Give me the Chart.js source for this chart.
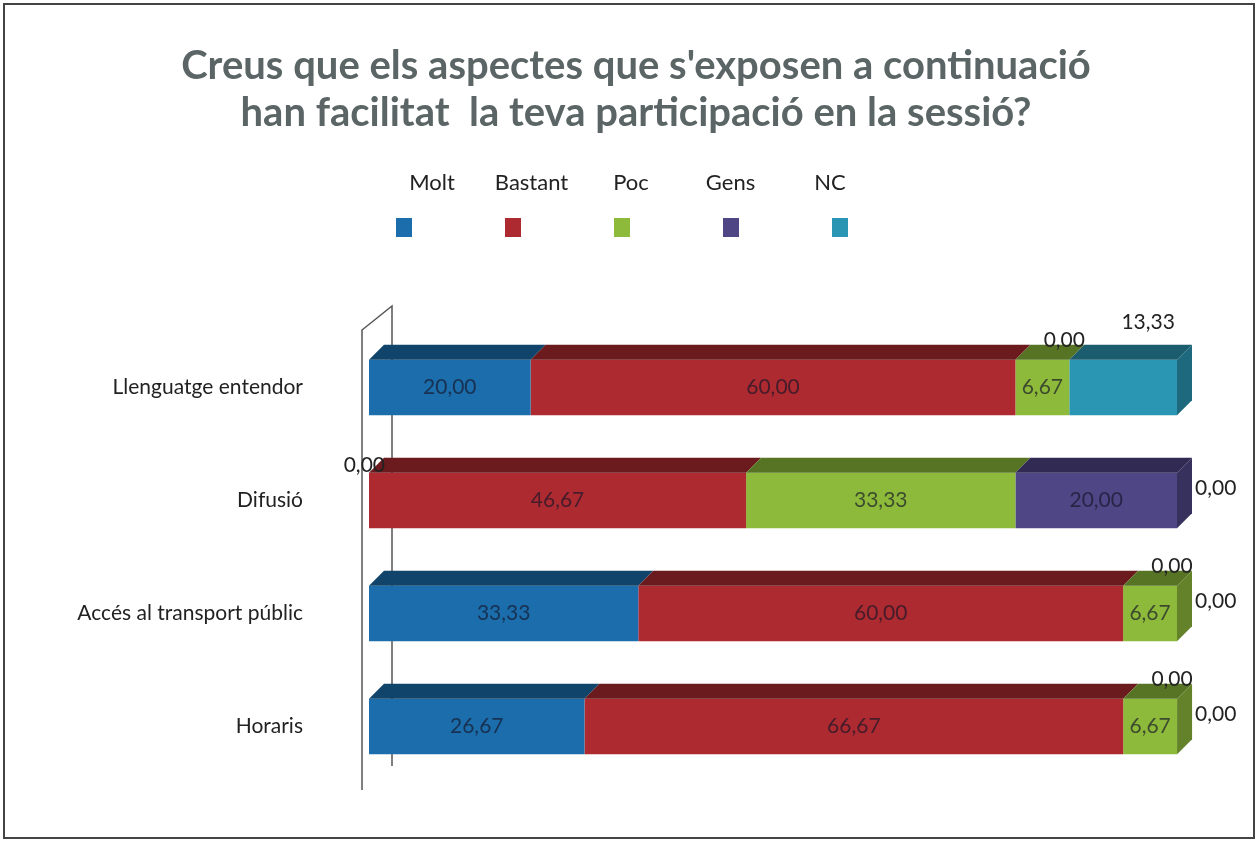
<!DOCTYPE html>
<html>
<head>
<meta charset="utf-8">
<script src="https://cdn.jsdelivr.net/npm/chart.js@4"></script>
<style>
  html, body { margin: 0; padding: 0; background: #fff; }
  canvas { display: block; }
</style>
</head>
<body>
<canvas id="chart" width="1258" height="843"></canvas>
<script>
const categories = ["Llenguatge entendor", "Difusió", "Accés al transport públic", "Horaris"];
const seriesNames = ["Molt", "Bastant", "Poc", "Gens", "NC"];
const molt = [20.0, 0.0, 33.33, 26.67];
const bastant = [60.0, 46.67, 60.0, 66.67];
const poc = [6.67, 33.33, 6.67, 6.67];
const gens = [0.0, 20.0, 0.0, 0.0];
const nc = [13.33, 0.0, 0.0, 0.0];
const titleLines = [
  "Creus que els aspectes que s'exposen a continuació",
  "han facilitat  la teva participació en la sessió?"
];

const colors = ["#1c6dab", "#ad2a30", "#8dba3a", "#4f4686", "#2b96b3"];
const FONT = "Lato, 'Open Sans', sans-serif";
const DEPTH = 15;

function shade(hex, f) {
  const n = parseInt(hex.slice(1), 16);
  const r = Math.round(((n >> 16) & 255) * f);
  const g = Math.round(((n >> 8) & 255) * f);
  const b = Math.round((n & 255) * f);
  return `rgb(${r},${g},${b})`;
}

const fmt = (v) => v.toFixed(2).replace(".", ",");

// frame, title, legend and the side wall
const backdrop = {
  id: "backdrop",
  beforeDraw(chart) {
    const ctx = chart.ctx;
    const a = chart.chartArea;
    ctx.save();
    ctx.fillStyle = "#fff";
    ctx.fillRect(0, 0, chart.width, chart.height);
    ctx.strokeStyle = "#444";
    ctx.lineWidth = 2;
    ctx.strokeRect(4, 4, chart.width - 8, chart.height - 9);

    // title
    ctx.fillStyle = "#5b6565";
    ctx.font = "bold 40px " + FONT;
    ctx.textAlign = "center";
    ctx.textBaseline = "middle";
    titleLines.forEach((t, i) => ctx.fillText(t, 636, 66 + i * 47));

    // legend: names on top, swatches under
    ctx.font = "22px " + FONT;
    ctx.fillStyle = "#222";
    chart.data.datasets.forEach((ds, i) => {
      ctx.fillText(ds.label, 432 + i * 99.5, 183);
      ctx.fillStyle = ds.backgroundColor;
      ctx.fillRect(396 + i * 109, 218, 16, 19);
      ctx.fillStyle = "#222";
    });

    // wall
    ctx.strokeStyle = "#555";
    ctx.lineWidth = 1.5;
    ctx.beginPath();
    ctx.moveTo(a.left - 7, a.bottom + 7);
    ctx.lineTo(a.left - 7, a.top - 1);
    ctx.lineTo(a.left + 23, a.top - 25);
    ctx.lineTo(a.left + 23, a.bottom - 17);
    ctx.stroke();
    ctx.restore();
  }
};

// top and end faces of the bars, then the value labels
const bars3d = {
  id: "bars3d",
  afterDatasetsDraw(chart) {
    const ctx = chart.ctx;
    const n = chart.data.labels.length;
    const last = chart.data.datasets.length - 1;
    ctx.save();
    for (let j = 0; j < n; j++) {
      let endX = null, endColor = null, yT = 0, yB = 0;
      chart.data.datasets.forEach((ds, i) => {
        const el = chart.getDatasetMeta(i).data[j];
        const p = el.getProps(["x", "y", "base", "height"], true);
        yT = p.y - p.height / 2;
        yB = p.y + p.height / 2;
        if (ds.data[j] <= 0) return;
        ctx.fillStyle = shade(ds.backgroundColor, 0.62);
        ctx.beginPath();
        ctx.moveTo(p.base, yT);
        ctx.lineTo(p.x, yT);
        ctx.lineTo(p.x + DEPTH, yT - DEPTH);
        ctx.lineTo(p.base + DEPTH, yT - DEPTH);
        ctx.closePath();
        ctx.fill();
        endX = p.x;
        endColor = ds.backgroundColor;
      });
      if (endX !== null) {
        ctx.fillStyle = shade(endColor, 0.7);
        ctx.beginPath();
        ctx.moveTo(endX, yT);
        ctx.lineTo(endX + DEPTH, yT - DEPTH);
        ctx.lineTo(endX + DEPTH, yB - DEPTH);
        ctx.lineTo(endX, yB);
        ctx.closePath();
        ctx.fill();
      }
    }

    ctx.font = "21px " + FONT;
    ctx.textBaseline = "middle";
    chart.data.datasets.forEach((ds, i) => {
      chart.getDatasetMeta(i).data.forEach((el, j) => {
        const v = ds.data[j];
        const p = el.getProps(["x", "y", "base", "height"], true);
        const yT = p.y - p.height / 2;
        const endX = chart.scales.x.getPixelForValue(100);
        if (v > 0 && i < last) {
          ctx.textAlign = "center";
          ctx.fillStyle = "rgba(20,20,40,0.68)";
          ctx.fillText(fmt(v), (p.x + p.base) / 2, p.y);
        } else if (v > 0) {
          ctx.textAlign = "center";
          ctx.fillStyle = "#222";
          ctx.fillText(fmt(v), (p.x + p.base) / 2 + 25, yT - 38);
        } else if (i === 0) {
          ctx.textAlign = "right";
          ctx.fillStyle = "#222";
          ctx.fillText(fmt(v), p.base + 16, yT - 8);
        } else if (i === last) {
          ctx.textAlign = "left";
          ctx.fillStyle = "#222";
          ctx.fillText(fmt(v), endX + 18, p.y - 12);
        } else {
          ctx.textAlign = "center";
          ctx.fillStyle = "#222";
          ctx.fillText(fmt(v), p.x - 5, yT - 20);
        }
      });
    });
    ctx.restore();
  }
};

const series = [molt, bastant, poc, gens, nc];

new Chart(document.getElementById("chart"), {
  type: "bar",
  data: {
    labels: categories,
    datasets: seriesNames.map((name, i) => ({
      label: name,
      data: series[i],
      backgroundColor: colors[i],
      borderWidth: 0,
      barPercentage: 0.49,
      categoryPercentage: 1
    }))
  },
  options: {
    indexAxis: "y",
    responsive: false,
    animation: false,
    devicePixelRatio: 1,
    layout: { padding: { top: 331, bottom: 60, right: 81, left: 0 } },
    plugins: {
      legend: { display: false },
      title: { display: false },
      tooltip: { enabled: false }
    },
    scales: {
      x: { stacked: true, min: 0, max: 100, display: false },
      y: {
        stacked: true,
        grid: { display: false },
        border: { display: false },
        afterFit: (s) => {
          s.width = 369;
          s.paddingTop = 0;
          s.paddingBottom = 0;
        },
        ticks: {
          crossAlign: "near",
          padding: 58,
          color: "#222",
          font: { family: FONT, size: 21 }
        }
      }
    }
  },
  plugins: [backdrop, bars3d]
});
</script>
</body>
</html>
